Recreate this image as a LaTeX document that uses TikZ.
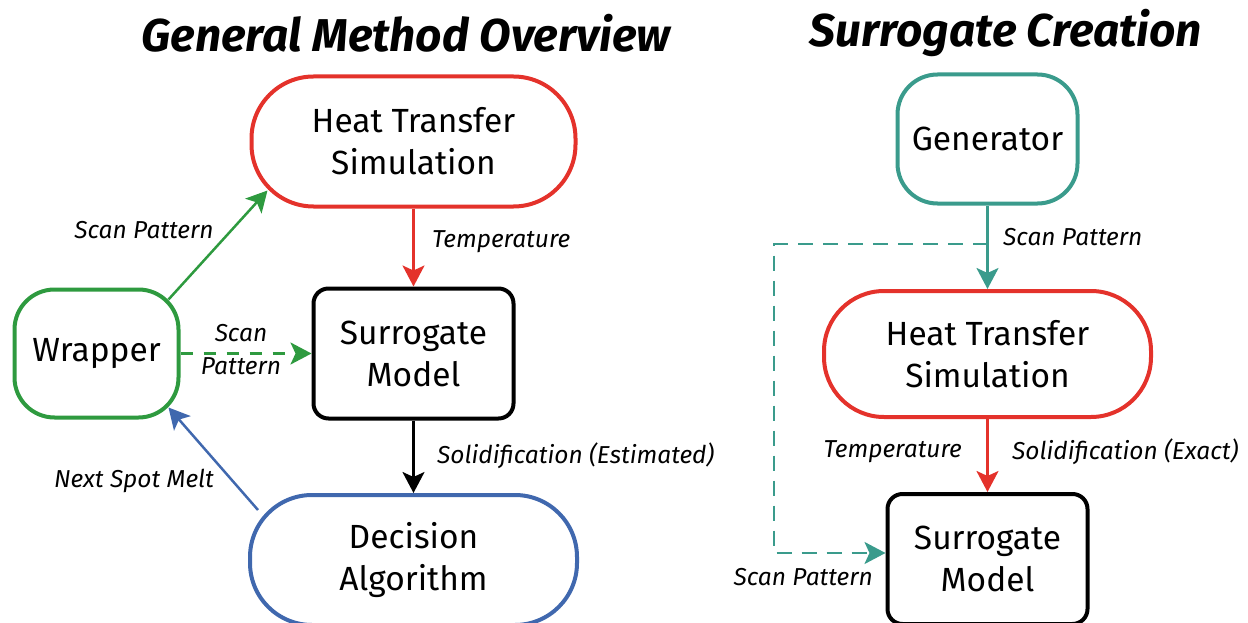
\documentclass[tikz,border=0pt]{standalone}
\usepackage{fontspec}
\setmainfont{Fira Sans}
\usetikzlibrary{arrows.meta,calc}
\definecolor{cred}{HTML}{E4322B}
\definecolor{cgreen}{HTML}{2E9A3F}
\definecolor{cblue}{HTML}{4068AE}
\definecolor{cteal}{HTML}{3A9B8C}
\begin{document}
\begin{tikzpicture}[x=1pt,y=-1pt,
  box/.style={draw, line width=4pt, align=center, inner sep=0pt,
    font=\fontsize{33.5}{42}\selectfont},
  lab/.style={font=\fontsize{24.5}{33}\selectfont\itshape, inner sep=0pt, align=center},
  arr/.style={line width=2.5pt, -{Stealth[length=21pt,width=22pt,inset=5pt]}},
  ttl/.style={font=\fontsize{46}{50}\selectfont\bfseries\itshape, inner sep=0pt}]
\useasboundingbox (0,0) rectangle (1248,623);

% titles
\node[ttl] (t1) at (406,33) {General Method Overview};
\node[ttl] (t2) at (1006,33) {Surrogate Creation};

% left
\node[box, draw=cred, minimum width=324pt, minimum height=130pt, rounded corners=62pt] (hts1) at (413.5,141.5) {Heat Transfer\\Simulation};
\node[box, draw=black, minimum width=200pt, minimum height=130pt, rounded corners=15pt] (sm1) at (413.5,353.5) {Surrogate\\Model};
\node[box, draw=cgreen, minimum width=164pt, minimum height=128pt, rounded corners=40pt] (wrap) at (96.5,353.5) {Wrapper};
\node[box, draw=cblue, minimum width=327pt, minimum height=130pt, rounded corners=62pt] (da) at (413.5,560) {Decision\\Algorithm};

\draw[arr, cred] (hts1) -- (sm1);
\draw[arr, black] (sm1) -- (da);
\draw[arr, cgreen] ($(wrap.north east)+(-12,12)$) -- ($(hts1.south west)+(18,-18)$);
\draw[arr, cgreen, dash pattern=on 12pt off 11pt] (wrap.east) -- (sm1.west);
\draw[arr, cblue] ($(da.north west)+(10,17)$) -- ($(wrap.south east)+(-12,-12)$);

\node[lab, anchor=west] (l1) at (432,242) {Temperature};
\node[lab, anchor=west] (l2) at (437,456) {Solidification (Estimated)};
\node[lab] (l3) at (144,230) {Scan Pattern};
\node[lab] (l4) at (241,350) {Scan\\Pattern};
\node[lab] (l5) at (134,481) {Next Spot Melt};

% right
\node[box, draw=cteal, minimum width=180pt, minimum height=129pt, rounded corners=40pt] (gen) at (987.5,139) {Generator};
\node[box, draw=cred, minimum width=327pt, minimum height=126pt, rounded corners=60pt] (hts2) at (987.5,354) {Heat Transfer\\Simulation};
\node[box, draw=black, minimum width=200pt, minimum height=130pt, rounded corners=15pt] (sm2) at (987.5,559) {Surrogate\\Model};

\draw[arr, cteal] (gen) -- (hts2);
\draw[arr, cred] (hts2) -- (sm2);
\coordinate (dsplit) at (987.5,244);
\coordinate (dleft) at (774,244);
\draw[arr, cteal, dash pattern=on 15pt off 10pt] (dsplit) -- (dleft) |- ([yshift=6pt]sm2.west);

\node[lab, anchor=west] (r1) at (1003,237) {Scan Pattern};
\node[lab, anchor=east] (r2) at (962,452) {Temperature};
\node[lab, anchor=west] (r3) at (1012,452) {Solidification (Exact)};
\node[lab, anchor=east] (r4) at (873,577) {Scan Pattern};
\end{tikzpicture}
\end{document}
